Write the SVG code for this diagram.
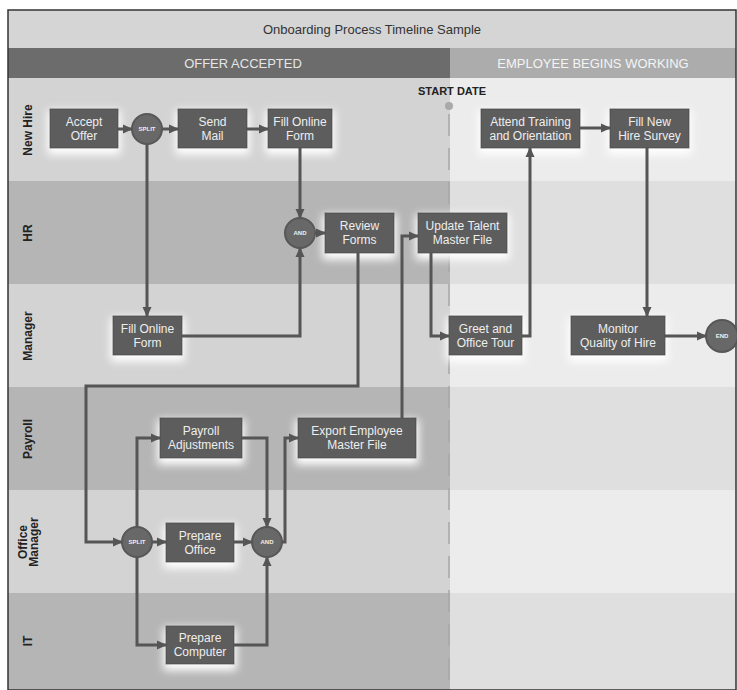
<svg xmlns="http://www.w3.org/2000/svg" width="737" height="690" viewBox="0 0 737 690">
<style>
.box{fill:#5d5d5d;stroke:#4e4e4e;stroke-width:1}
.bt{font-family:"Liberation Sans",Arial,sans-serif;font-size:12px;fill:#eeeeee;text-anchor:middle}
.gate{fill:#686868;stroke:#575757;stroke-width:2}
.gt{font-family:"Liberation Sans",Arial,sans-serif;font-size:6px;font-weight:bold;fill:#f0f0f0;text-anchor:middle}
.lane{font-family:"Liberation Sans",Arial,sans-serif;font-size:12px;font-weight:bold;fill:#222;text-anchor:middle}
.hdr{font-family:"Liberation Sans",Arial,sans-serif;font-size:13px;text-anchor:middle}
.con{fill:none;stroke:#555;stroke-width:3;marker-end:url(#arr)}
</style>
<defs>
<marker id="arr" markerUnits="userSpaceOnUse" markerWidth="10" markerHeight="10" refX="9" refY="5" orient="auto">
<path d="M0,0.5 L10,5 L0,9.5 z" fill="#555"/>
</marker>
<filter id="glow" x="-30%" y="-30%" width="160%" height="180%">
<feMorphology in="SourceAlpha" operator="dilate" radius="2" result="d"/>
<feGaussianBlur in="d" stdDeviation="4" result="b"/>
<feOffset in="b" dy="4" result="o"/>
<feFlood flood-color="#ffffff"/>
<feComposite in2="o" operator="in" result="s"/>
<feMerge><feMergeNode in="s"/><feMergeNode in="SourceGraphic"/></feMerge>
</filter>
</defs>
<rect x="0" y="0" width="737" height="690" fill="#ffffff"/>
<g id="background">
<rect x="8" y="10" width="728" height="38" fill="#d5d5d5"/>
<rect x="8" y="48" width="442" height="30" fill="#6c6c6c"/>
<rect x="450" y="48" width="286" height="30" fill="#acacac"/>
<rect x="8" y="78" width="442" height="103" fill="#d3d3d3"/>
<rect x="8" y="181" width="442" height="103" fill="#b5b5b5"/>
<rect x="8" y="284" width="442" height="103" fill="#d3d3d3"/>
<rect x="8" y="387" width="442" height="103" fill="#b5b5b5"/>
<rect x="8" y="490" width="442" height="103" fill="#d3d3d3"/>
<rect x="8" y="593" width="442" height="97" fill="#b5b5b5"/>
<rect x="450" y="78" width="286" height="103" fill="#ececec"/>
<rect x="450" y="181" width="286" height="103" fill="#dfdfdf"/>
<rect x="450" y="284" width="286" height="103" fill="#ececec"/>
<rect x="450" y="387" width="286" height="103" fill="#dfdfdf"/>
<rect x="450" y="490" width="286" height="103" fill="#ececec"/>
<rect x="450" y="593" width="286" height="97" fill="#dfdfdf"/>
<line x1="449" y1="114" x2="449" y2="690" stroke="#a8a8a8" stroke-width="1.5" stroke-dasharray="22 12"/>
<circle cx="449" cy="106" r="4" fill="#a9a9a9"/>
<rect x="8" y="10" width="728" height="680" fill="none" stroke="#333" stroke-width="1.5"/>
<text x="372" y="34" class="hdr" fill="#333">Onboarding Process Timeline Sample</text>
<text x="243" y="68" class="hdr" fill="#e6e6e6">OFFER ACCEPTED</text>
<text x="593" y="68" class="hdr" fill="#f4f4f4">EMPLOYEE BEGINS WORKING</text>
<text x="452" y="95" font-family="Liberation Sans,Arial,sans-serif" font-size="11" font-weight="bold" fill="#222" text-anchor="middle">START DATE</text>
<text class="lane" transform="translate(32,130) rotate(-90)">New Hire</text>
<text class="lane" transform="translate(32,233) rotate(-90)">HR</text>
<text class="lane" transform="translate(32,336) rotate(-90)">Manager</text>
<text class="lane" transform="translate(32,439) rotate(-90)">Payroll</text>
<text class="lane" transform="translate(27,542) rotate(-90)">Office</text>
<text class="lane" transform="translate(38,542) rotate(-90)">Manager</text>
<text class="lane" transform="translate(32,641) rotate(-90)">IT</text>
</g>
<g id="n_accept"><rect class="box" filter="url(#glow)" x="50" y="109" width="68" height="39"/><text class="bt" x="84" y="126">Accept</text><text class="bt" x="84" y="140">Offer</text></g>
<g id="n_split1"><circle class="gate" cx="147" cy="129" r="15"/><text class="gt" x="147" y="131">SPLIT</text></g>
<g id="n_sendmail"><rect class="box" filter="url(#glow)" x="178" y="109" width="69" height="39"/><text class="bt" x="212.5" y="126">Send</text><text class="bt" x="212.5" y="140">Mail</text></g>
<g id="n_fill1"><rect class="box" filter="url(#glow)" x="268" y="109" width="64" height="39"/><text class="bt" x="300" y="126">Fill Online</text><text class="bt" x="300" y="140">Form</text></g>
<g id="n_and1"><circle class="gate" cx="300" cy="233" r="15"/><text class="gt" x="300" y="235">AND</text></g>
<g id="n_review"><rect class="box" filter="url(#glow)" x="325" y="213" width="69" height="40"/><text class="bt" x="359.5" y="230">Review</text><text class="bt" x="359.5" y="244">Forms</text></g>
<g id="n_update"><rect class="box" filter="url(#glow)" x="418" y="213" width="89" height="40"/><text class="bt" x="462.5" y="230">Update Talent</text><text class="bt" x="462.5" y="244">Master File</text></g>
<g id="n_attend"><rect class="box" filter="url(#glow)" x="481" y="109" width="99" height="39"/><text class="bt" x="530.5" y="126">Attend Training</text><text class="bt" x="530.5" y="140">and Orientation</text></g>
<g id="n_survey"><rect class="box" filter="url(#glow)" x="610" y="109" width="79" height="39"/><text class="bt" x="649.5" y="126">Fill New</text><text class="bt" x="649.5" y="140">Hire Survey</text></g>
<g id="n_fill2"><rect class="box" filter="url(#glow)" x="113" y="316" width="69" height="39"/><text class="bt" x="147.5" y="333">Fill Online</text><text class="bt" x="147.5" y="347">Form</text></g>
<g id="n_greet"><rect class="box" filter="url(#glow)" x="449" y="316" width="73" height="39"/><text class="bt" x="485.5" y="333">Greet and</text><text class="bt" x="485.5" y="347">Office Tour</text></g>
<g id="n_monitor"><rect class="box" filter="url(#glow)" x="571" y="316" width="94" height="39"/><text class="bt" x="618" y="333">Monitor</text><text class="bt" x="618" y="347">Quality of Hire</text></g>
<g id="n_end"><circle class="gate" cx="722" cy="336" r="16"/><text class="gt" x="722" y="338">END</text></g>
<g id="n_payroll"><rect class="box" filter="url(#glow)" x="160" y="418" width="82" height="40"/><text class="bt" x="201" y="435">Payroll</text><text class="bt" x="201" y="449">Adjustments</text></g>
<g id="n_export"><rect class="box" filter="url(#glow)" x="298" y="418" width="118" height="40"/><text class="bt" x="357" y="435">Export Employee</text><text class="bt" x="357" y="449">Master File</text></g>
<g id="n_split2"><circle class="gate" cx="137" cy="542" r="15"/><text class="gt" x="137" y="544">SPLIT</text></g>
<g id="n_office"><rect class="box" filter="url(#glow)" x="166" y="523" width="68" height="39"/><text class="bt" x="200" y="540">Prepare</text><text class="bt" x="200" y="554">Office</text></g>
<g id="n_and2"><circle class="gate" cx="267" cy="542" r="15"/><text class="gt" x="267" y="544">AND</text></g>
<g id="n_computer"><rect class="box" filter="url(#glow)" x="166" y="626" width="68" height="38"/><text class="bt" x="200" y="642">Prepare</text><text class="bt" x="200" y="656">Computer</text></g>
<g id="connectors">
<path class="con" d="M118,129 H132"/>
<path class="con" d="M162,129 H178"/>
<path class="con" d="M247,129 H268"/>
<path class="con" d="M147,144 V316"/>
<path class="con" d="M300,148 V218"/>
<path class="con" d="M182,336 H300 V248"/>
<path class="con" d="M315,233 H325"/>
<path class="con" d="M358,253 V386 H86 V542 H122"/>
<path class="con" d="M152,542 H166"/>
<path class="con" d="M234,542 H252"/>
<path class="con" d="M137,527 V438 H160"/>
<path class="con" d="M137,557 V645 H166"/>
<path class="con" d="M242,438 H267 V527"/>
<path class="con" d="M234,645 H267 V557"/>
<path class="con" d="M282,542 H285 V438 H298"/>
<path class="con" d="M402,418 V236 H418"/>
<path class="con" d="M431,253 V336 H449"/>
<path class="con" d="M522,336 H530 V148"/>
<path class="con" d="M580,128 H610"/>
<path class="con" d="M647,148 V316"/>
<path class="con" d="M665,336 H706"/>
</g>
</svg>
